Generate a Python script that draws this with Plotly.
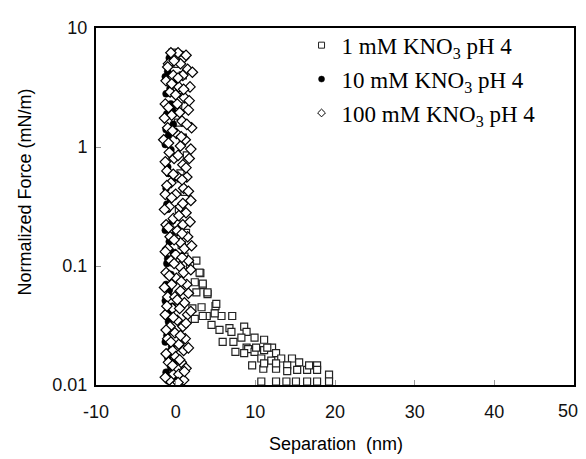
import plotly.graph_objects as go

# 1 mM KNO3 pH 4 (open squares)
x1 = [-0.4, 0.2, 0.9, 0.5, 1.2, 0.3, 0.9, 1.4, 0.6, 1.1, 0.4, 0.1, 1.3, 0.75, 1.1, 2.6, 1.8,
      3.1, 3.4, 4.0, 5.0, 3.0, 2.4, 3.4, 4.0, 2.6, 2.1, 3.25, 5.1, 3.9, 4.5, 5.5, 2.4,
      7.1, 5.75, 4.9, 3.4, 6.75, 7.0, 8.6, 8.9, 8.25, 9.9, 11.1, 5.9, 7.25, 8.9, 9.1, 7.5,
      8.6, 9.9, 11.1, 12.1, 12.6, 10.75, 12.0, 13.25, 14.6, 15.5, 9.6, 11.0, 12.6, 14.0,
      14.0, 15.25, 16.5, 16.75, 17.75, 17.75, 19.25,
      10.75, 12.6, 13.9, 15.1, 16.5, 17.75, 19.25,
      11.1, 12.6, 10.1, 11.5]
y1 = [6.2, 5.0, 4.0, 3.0, 2.2, 1.6, 1.2, 0.85, 0.6, 0.42, 0.3, 0.227, 0.19, 0.15, 0.12, 0.111, 0.1,
      0.087, 0.069, 0.058, 0.046, 0.088, 0.073, 0.071, 0.060, 0.060, 0.044, 0.045, 0.048, 0.038, 0.032, 0.029, 0.036,
      0.038, 0.038, 0.040, 0.038, 0.030, 0.028, 0.031, 0.028, 0.025, 0.025, 0.024, 0.023, 0.023, 0.0206, 0.020, 0.019,
      0.0185, 0.019, 0.0196, 0.0206, 0.0185, 0.0167, 0.016, 0.0167, 0.0167, 0.0155, 0.0146, 0.0137, 0.0137, 0.0146,
      0.0131, 0.0134, 0.0134, 0.0146, 0.0146, 0.0134, 0.0122,
      0.0107, 0.0107, 0.0107, 0.0107, 0.0107, 0.0107, 0.0107,
      0.0152, 0.0152, 0.0206, 0.0206]

# 10 mM KNO3 pH 4 (filled circles)
x10 = [0.8, -0.5, -1.0, -0.2, -1.2, -0.6, -1.1, -0.3, -0.9, -1.3, -0.5, -1.0, -0.2, -1.2, -0.7,
       -1.0, -0.4, -1.3, -0.8, -0.3, -1.1, -0.6, -1.2, -0.9, -0.4, -1.2, -0.7, -1.1, -0.5, -1.0,
       -0.6, -0.2, -0.9, 0.3,
       -0.8, -1.3, -0.7, -0.4, -1.2, -0.6, -0.9, -1.1, -0.5, -1.0, -0.3, -0.8, -1.3, -0.6, -0.9,
       -0.2, -1.3, -0.8, -0.3, -1.2, 0.2, 0.8]
y10 = [6.0, 5.2, 4.3, 3.5, 2.8, 2.3, 1.9, 1.55, 1.25, 1.05, 0.85, 0.68, 0.55, 0.45, 0.37,
       0.3, 0.24, 0.2, 0.16, 0.13, 0.105, 0.085, 0.07, 0.057, 0.046, 0.038, 0.031, 0.026, 0.021, 0.017,
       0.014, 0.012, 0.0108, 0.0108,
       5.6, 3.9, 3.1, 2.05, 1.4, 0.95, 0.6, 0.33, 0.18, 0.115, 0.077, 0.063, 0.051, 0.042, 0.034,
       0.028, 0.023, 0.019, 0.0155, 0.0128, 0.0115, 0.011]

# 100 mM KNO3 pH 4 (open diamonds)
x100 = [0.3, -0.6, 1.0, -0.9, 0.6, 1.5, -0.3, 0.9, -1.2, 0.4, 1.8, -0.7, 1.1, -1.3, 0.2,
        1.6, -0.5, 0.8, -1.0, 2.0, 0.1, -1.5, 1.2, 0.6, -0.8, 1.7, -0.2, 0.9, -1.1, 0.3,
        1.4, -0.6, 1.0, -1.3, 0.0, 1.9, 0.6, -0.8, 1.3, -0.3, 0.9, -1.2, 0.2, 1.5, -0.7,
        0.6, -1.0, 1.1, 0.0, -0.6, 1.6, 0.5, -1.2, 1.0, 0.1, -0.5, 1.4, 0.6, -1.0, -0.1,
        1.1, -0.4, 0.5, 1.5, -1.3, 0.2, -0.7, 0.9, -0.1, 1.2, -1.0, 0.4, -0.4, 1.0, 0.0,
        -0.9, 0.7, 1.3, -0.3, 0.4, -0.8, 1.0,
        1.3, -0.2, -1.0, 2.1, 0.3, -0.5, 1.0, 0.0, 1.7, -0.9, 0.5, -1.4, 1.4, -0.4,
        0.7, -0.9, 1.9, 0.3, -1.3, 1.3, -0.3, 0.8, -1.1, 1.6, -0.5, 0.9, -1.4, 0.4,
        1.8, -0.9, 0.8, -0.2, 2.0, -1.3, 0.8, -0.2, 1.9, -0.8, 0.7, -1.4, 1.6, 0.2,
        -1.1, 1.9, -0.3, 1.3, -1.2, 0.6, -0.6, 1.6, -1.2, 0.5, -0.4, 1.1, -1.3, 0.3]
y100 = [6.2, 6.2, 5.6, 5.0, 5.0, 4.5, 4.0, 4.0, 3.6, 3.2, 3.2, 2.9, 2.6, 2.3, 2.3,
        2.05, 1.85, 1.65, 1.45, 1.45, 1.3, 1.15, 1.15, 1.02, 0.9, 0.8, 0.8, 0.71, 0.63, 0.56,
        0.56, 0.50, 0.45, 0.40, 0.40, 0.355, 0.315, 0.315, 0.28, 0.25, 0.222, 0.222, 0.198, 0.176, 0.176,
        0.157, 0.14, 0.14, 0.125, 0.111, 0.111, 0.099, 0.088, 0.088, 0.079, 0.07, 0.07, 0.062, 0.055, 0.055,
        0.049, 0.044, 0.044, 0.039, 0.039, 0.035, 0.031, 0.031, 0.0275, 0.0245, 0.0245, 0.022, 0.0195, 0.0195, 0.0173,
        0.0155, 0.0155, 0.0138, 0.0123, 0.0123, 0.011, 0.011,
        5.9, 5.3, 4.7, 4.25, 3.8, 3.4, 3.05, 2.75, 2.45, 2.15, 1.95, 1.75, 1.55, 1.37,
        1.22, 1.08, 0.96, 0.85, 0.75, 0.67, 0.59, 0.53, 0.475, 0.425, 0.375, 0.335, 0.298, 0.265,
        0.235, 0.21, 0.187, 0.166, 0.148, 0.132, 0.118, 0.105, 0.093, 0.083, 0.074, 0.066, 0.059, 0.052,
        0.046, 0.0415, 0.037, 0.033, 0.029, 0.026, 0.023, 0.0205, 0.0183, 0.0163, 0.0146, 0.013, 0.0116, 0.0105]

series_names = ["1 mM KNO<sub>3</sub> pH 4", "10 mM KNO<sub>3</sub> pH 4", "100 mM KNO<sub>3</sub> pH 4"]
x_ticks = [-10, 0, 10, 20, 30, 40, 50]
x_ticktext = ["-10", "0", "10", "20", "30", "40", ""]
last_x_label = "50"
y_ticks = [0.01, 0.1, 1, 10]
y_ticktext = ["0.01", "0.1", "1", "10"]

fig = go.Figure()

fig.add_trace(go.Scatter(x=x1, y=y1, mode="markers", showlegend=False,
                         marker=dict(symbol="square", size=7, color="white",
                                     line=dict(color="#222", width=1.2))))
fig.add_trace(go.Scatter(x=x10, y=y10, mode="markers", showlegend=False,
                         marker=dict(symbol="circle", size=7, color="black",
                                     line=dict(color="black", width=0.5))))
fig.add_trace(go.Scatter(x=x100, y=y100, mode="markers", showlegend=False,
                         marker=dict(symbol="diamond", size=8, color="white",
                                     line=dict(color="black", width=1.2))))

legend_styles = [
    dict(symbol="square", size=6, color="white", line=dict(color="#222", width=1)),
    dict(symbol="circle", size=6, color="black", line=dict(color="black", width=0.5)),
    dict(symbol="diamond", size=6, color="white", line=dict(color="black", width=1)),
]
for i, (nm, mk) in enumerate(zip(series_names, legend_styles)):
    fig.add_trace(go.Scatter(x=[None], y=[None], mode="markers", name=nm,
                             legendgroup=f"g{i}", marker=mk))

axis_common = dict(showline=True, linecolor="black", linewidth=2, mirror=True,
                   ticks="inside", ticklen=5, tickcolor="#999", tickwidth=1,
                   showgrid=False, zeroline=False,
                   tickfont=dict(family="Liberation Sans", size=18, color="#111"))

fig.update_xaxes(range=[-10, 50], tickvals=x_ticks, ticktext=x_ticktext,
                 ticklabelstandoff=9, **axis_common)
fig.update_yaxes(type="log", range=[-2, 1], tickvals=y_ticks, ticktext=y_ticktext,
                 ticklabelstandoff=3, **axis_common)

# the page body adds an 8 px offset, so the figure is 8 px smaller than the window
fig.update_layout(
    width=578, height=451,
    margin=dict(l=88, r=10, t=12, b=74),
    paper_bgcolor="white", plot_bgcolor="white",
    legend=dict(x=0.43, y=1.012, xanchor="left", yanchor="top",
                font=dict(family="Liberation Serif", size=23, color="black"),
                bgcolor="rgba(0,0,0,0)", tracegroupgap=1, traceorder="grouped"),
    annotations=[
        dict(text=last_x_label, xref="x", yref="paper", x=50, y=0, xshift=-6, yshift=-14,
             showarrow=False, xanchor="center", yanchor="top",
             font=dict(family="Liberation Sans", size=18, color="#111")),
        dict(text="Separation  (nm)", xref="paper", yref="paper", x=0.502, y=-0.164,
             showarrow=False, xanchor="center", yanchor="middle",
             font=dict(family="Liberation Sans", size=18, color="black")),
        dict(text="Normalized Force (mN/m)", xref="paper", yref="paper", x=-0.148, y=0.54,
             showarrow=False, xanchor="center", yanchor="middle", textangle=-90,
             font=dict(family="Liberation Sans", size=18, color="black")),
    ],
)

fig.write_html("out.html")
